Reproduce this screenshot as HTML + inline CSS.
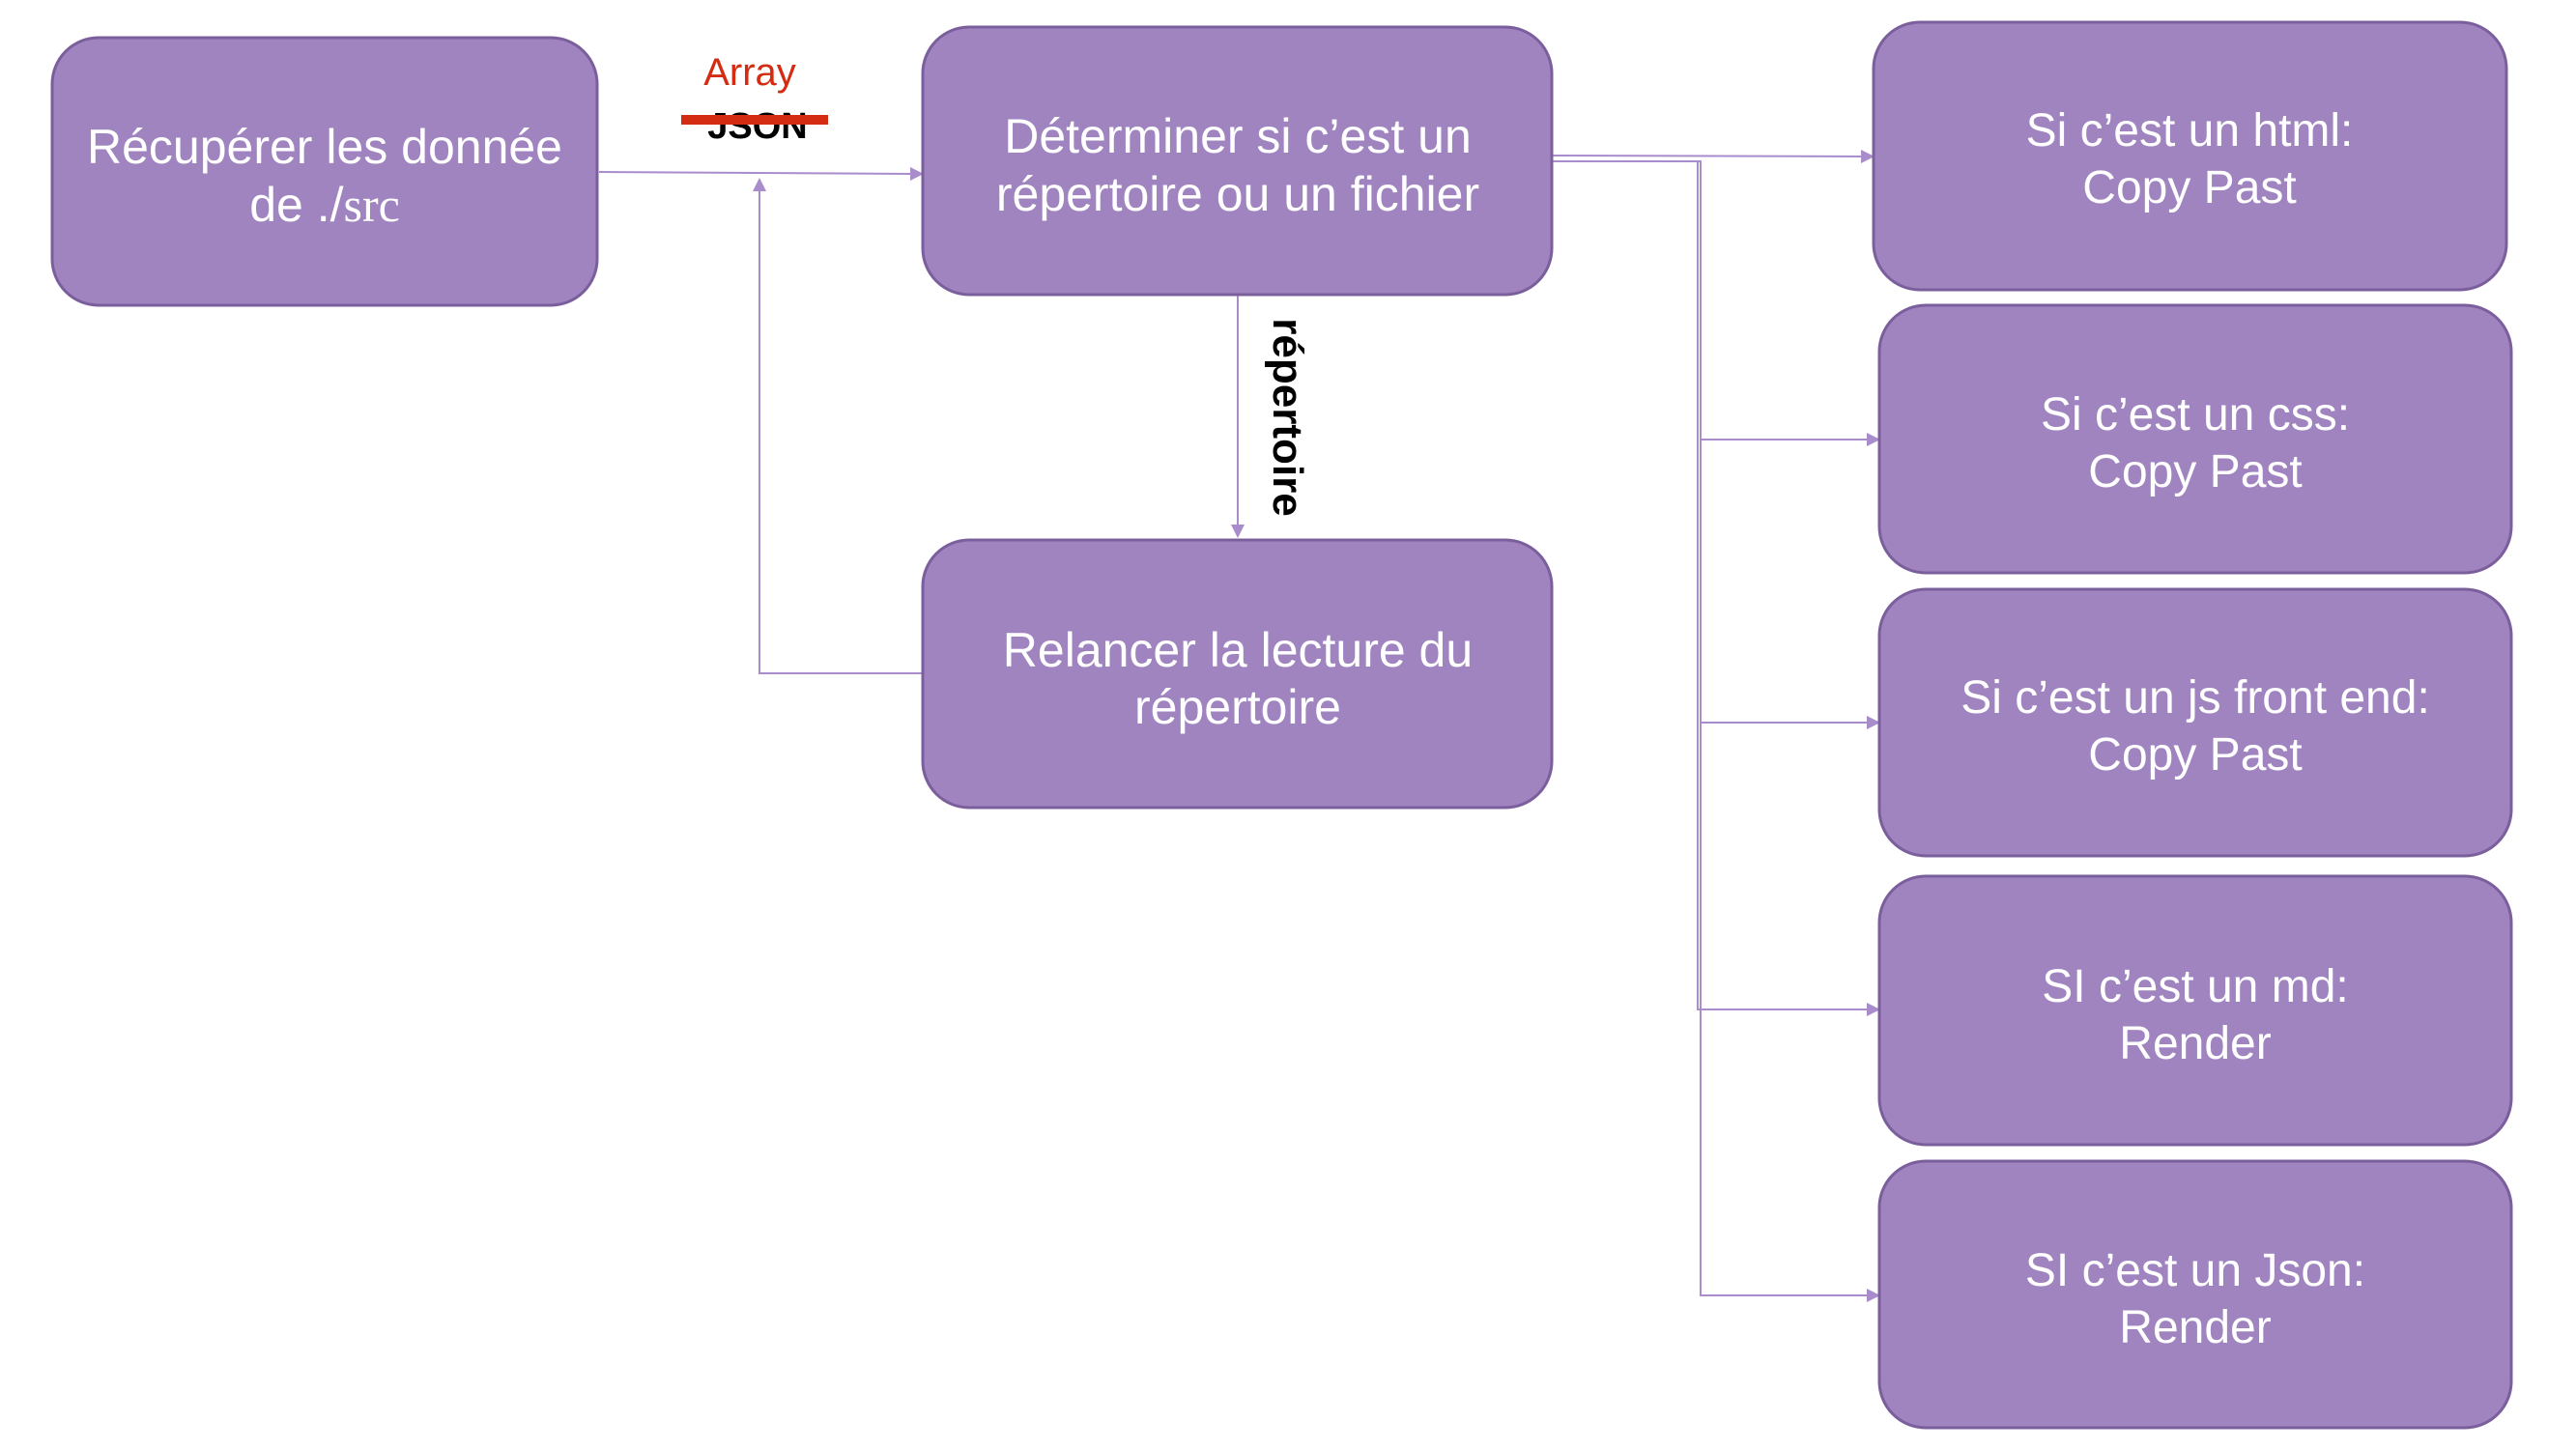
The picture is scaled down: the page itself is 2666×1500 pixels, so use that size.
<!DOCTYPE html>
<html><head><meta charset="utf-8"><style>
html,body{margin:0;padding:0;background:#fff;}
svg{display:block;}
.b{fill:#a084c0;stroke:#7b5f9c;stroke-width:3;}
.t{font-family:"Liberation Sans",Arial,sans-serif;fill:#fff;text-anchor:middle;}
.l{stroke:#a88ccc;stroke-width:2;fill:none;}
.a{fill:#a88ccc;}
</style></head><body>
<svg width="2666" height="1500" viewBox="0 0 2666 1500" xmlns="http://www.w3.org/2000/svg">
<line class="l" x1="620" y1="178" x2="944" y2="180"/>
<polygon class="a" points="956,180 942,173 942,187"/>
<polyline class="l" points="954,697 786,697 786,196"/>
<polygon class="a" points="786,184 779,198 793,198"/>
<line class="l" x1="1281" y1="306" x2="1281" y2="544"/>
<polygon class="a" points="1281,557 1274,543 1288,543"/>
<line class="l" x1="1606" y1="161" x2="1927" y2="162"/>
<polygon class="a" points="1940,162 1926,155 1926,169"/>
<polyline class="l" points="1606,167 1760,167 1760,1341 1933,1341"/>
<polyline class="l" points="1760,167 1757,167 1757,1045 1933,1045"/>
<line class="l" x1="1760" y1="455" x2="1933" y2="455"/>
<line class="l" x1="1760" y1="748" x2="1933" y2="748"/>
<polygon class="a" points="1946,455 1932,448 1932,462"/>
<polygon class="a" points="1946,748 1932,741 1932,755"/>
<polygon class="a" points="1946,1045 1932,1038 1932,1052"/>
<polygon class="a" points="1946,1341 1932,1334 1932,1348"/>
<text x="776" y="88" font-family="Liberation Sans,Arial,sans-serif" font-size="40" fill="#d42c12" text-anchor="middle">Array</text>
<text x="784" y="143" font-family="Liberation Sans,Arial,sans-serif" font-size="38" font-weight="bold" fill="#000" text-anchor="middle">JSON</text>
<rect x="705" y="119" width="152" height="10" fill="#d42c12"/>
<text transform="translate(1318,432) rotate(90)" font-family="Liberation Sans,Arial,sans-serif" font-size="44" font-weight="600" fill="#000" text-anchor="middle">répertoire</text>
<rect class="b" x="54" y="39" width="564" height="277" rx="48"/>
<text class="t" font-size="50" x="336" y="169">Récupérer les donnée</text>
<text class="t" font-size="50" x="336" y="229">de ./<tspan font-family="Liberation Serif,serif">src</tspan></text>
<rect class="b" x="955" y="28" width="651" height="277" rx="48"/>
<text class="t" font-size="50" x="1281" y="158">Déterminer si c’est un</text>
<text class="t" font-size="50" x="1281" y="218">répertoire ou un fichier</text>
<rect class="b" x="955" y="559" width="651" height="277" rx="48"/>
<text class="t" font-size="50" x="1281" y="690">Relancer la lecture du</text>
<text class="t" font-size="50" x="1281" y="749">répertoire</text>
<rect class="b" x="1939" y="23" width="655" height="277" rx="48"/>
<text class="t" font-size="48" x="2266" y="151">Si c’est un html:</text>
<text class="t" font-size="48" x="2266" y="210">Copy Past</text>
<rect class="b" x="1945" y="316" width="654" height="277" rx="48"/>
<text class="t" font-size="48" x="2272" y="445">Si c’est un css:</text>
<text class="t" font-size="48" x="2272" y="504">Copy Past</text>
<rect class="b" x="1945" y="610" width="654" height="276" rx="48"/>
<text class="t" font-size="48" x="2272" y="738">Si c’est un js front end:</text>
<text class="t" font-size="48" x="2272" y="797">Copy Past</text>
<rect class="b" x="1945" y="907" width="654" height="278" rx="48"/>
<text class="t" font-size="48" x="2272" y="1037">SI c’est un md:</text>
<text class="t" font-size="48" x="2272" y="1096">Render</text>
<rect class="b" x="1945" y="1202" width="654" height="276" rx="48"/>
<text class="t" font-size="48" x="2272" y="1331">SI c’est un Json:</text>
<text class="t" font-size="48" x="2272" y="1390">Render</text>
</svg>
</body></html>
